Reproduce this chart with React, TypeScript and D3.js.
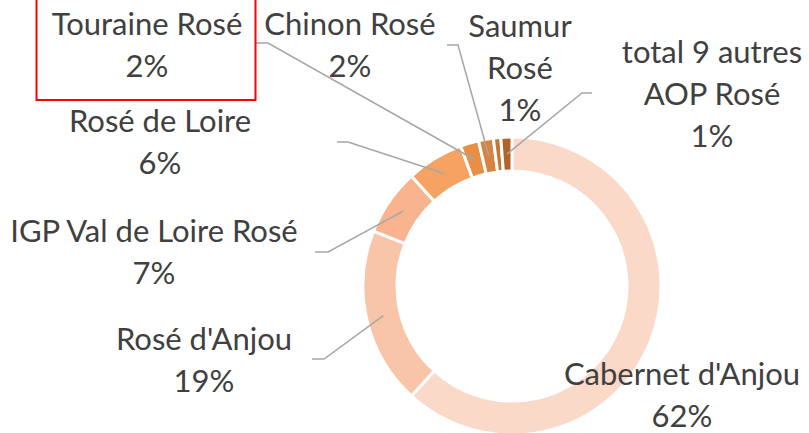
import React from "react";
import * as d3 from "d3";

const categories = [
  "Cabernet d'Anjou",
  "Rosé d'Anjou",
  "IGP Val de Loire Rosé",
  "Rosé de Loire",
  "Touraine Rosé",
  "Chinon Rosé",
  "Saumur Rosé",
  "total 9 autres AOP Rosé",
];
const shares = [61.8, 19.2, 7.2, 6.2, 2.0, 1.6, 0.8, 1.2];
const colors = ["#FAD9C8", "#F8C5A8", "#F7B48E", "#F5A263", "#E98F45", "#D8833F", "#C47534", "#AF6529"];

// label layout: text lines (name split), center x, first baseline
const labelLines = [
  ["Cabernet d'Anjou"],
  ["Rosé d'Anjou"],
  ["IGP Val de Loire Rosé"],
  ["Rosé de Loire"],
  ["Touraine Rosé"],
  ["Chinon Rosé"],
  ["Saumur", "Rosé"],
  ["total 9 autres", "AOP Rosé"],
];
const labelPos: [number, number][] = [
  [682, 385],
  [204, 350],
  [154, 242],
  [160, 132],
  [147, 35],
  [350, 35],
  [520, 37],
  [712, 63],
];
// leader line: start point, elbow point (null = no leader)
const leaders: ([number, number][] | null)[] = [
  null,
  [[312, 359], [324, 359]],
  [[315, 252], [328, 252]],
  [[337, 142], [348, 142]],
  [[256, 43], [268, 43]],
  [[447, 45], [458, 45]],
  null,
  [[592, 93], [582, 93]],
];

const W = 809;
const H = 433;
const cx = 512;
const cy = 286;
const rOuter = 149;
const rInner = 115;
const lineH = 42;

export default function App() {
  const pie = d3.pie<number>().sort(null).value((d) => d)(shares);
  const arc = d3.arc<d3.PieArcDatum<number>>().innerRadius(rInner).outerRadius(rOuter);
  const total = d3.sum(shares);

  return (
    <svg
      width={W}
      height={H}
      style={{ position: "absolute", left: 0, top: 0, background: "#fff" }}
      fontFamily="Lato, sans-serif"
    >
      <g transform={`translate(${cx},${cy})`}>
        {pie.map((p, i) => (
          <path key={i} d={arc(p) || ""} fill={colors[i]} stroke="#fff" strokeWidth={3} />
        ))}
      </g>
      {pie.map((p, i) => {
        const l = leaders[i];
        if (!l) return null;
        const [mx, my] = arc.centroid(p);
        const pts = [...l, [cx + mx, cy + my]];
        return (
          <polyline
            key={"l" + i}
            points={pts.map((q) => q.join(",")).join(" ")}
            fill="none"
            stroke="#A6A6A6"
            strokeWidth={1.5}
          />
        );
      })}
      {categories.map((c, i) => {
        const [x, y] = labelPos[i];
        const lines = [...labelLines[i], `${Math.round((shares[i] / total) * 100)}%`];
        return (
          <text key={"t" + i} x={x} y={y} textAnchor="middle" fontSize={31} fill="#404040">
            {lines.map((t, j) => (
              <tspan key={j} x={x} y={y + j * lineH}>
                {t}
              </tspan>
            ))}
          </text>
        );
      })}
      <rect x={36.5} y={-5} width={219} height={105} fill="none" stroke="#FF0000" strokeWidth={2} />
    </svg>
  );
}
